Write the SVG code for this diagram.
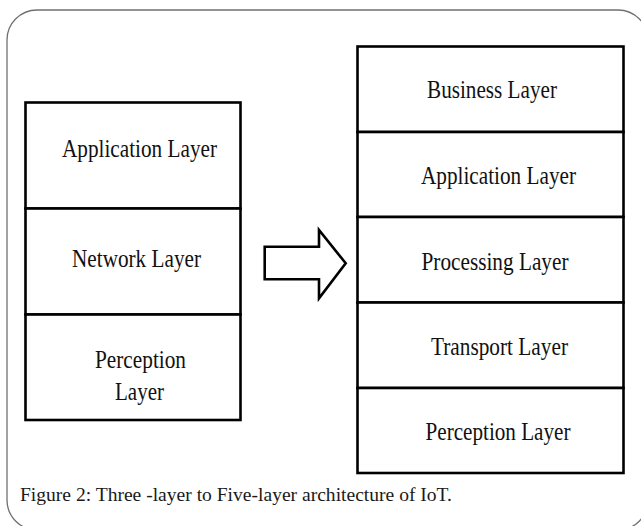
<svg xmlns="http://www.w3.org/2000/svg" width="641" height="526" viewBox="0 0 641 526">
<style>
.frame{fill:none;stroke:#707070;stroke-width:1.3}
.box{fill:#fff;stroke:#000;stroke-width:2.6}
.lbl{font-family:"Liberation Serif","Times New Roman",serif;font-size:26px;fill:#111}
.cap{font-family:"Liberation Serif","Times New Roman",serif;font-size:19px;fill:#1a1a1a}
</style>
<rect width="641" height="526" fill="#fff"/>
<rect class="frame" x="7" y="10" width="641" height="520" rx="30" ry="30"/>
<g id="three-layer">
<g id="l-application"><rect class="box" x="25.5" y="102.5" width="215" height="106"/>
<text class="lbl" x="62" y="157" textLength="155" lengthAdjust="spacingAndGlyphs">Application Layer</text></g>
<g id="l-network"><rect class="box" x="25.5" y="208.5" width="215" height="106"/>
<text class="lbl" x="72" y="267" textLength="129" lengthAdjust="spacingAndGlyphs">Network Layer</text></g>
<g id="l-perception"><rect class="box" x="25.5" y="314.5" width="215" height="105.5"/>
<text class="lbl" x="95" y="368" textLength="91" lengthAdjust="spacingAndGlyphs">Perception</text>
<text class="lbl" x="115" y="400" textLength="49" lengthAdjust="spacingAndGlyphs">Layer</text></g>
</g>
<g id="connectors">
<path d="M264.7,246.7 H319 V230 L345.7,263.3 L319,298.3 V279.3 H264.7 Z" fill="#fff" stroke="#000" stroke-width="2.6" stroke-linejoin="miter"/>
</g>
<g id="five-layer">
<g id="r-business"><rect class="box" x="357.5" y="46.5" width="266" height="85.5"/>
<text class="lbl" x="427" y="98" textLength="130" lengthAdjust="spacingAndGlyphs">Business Layer</text></g>
<g id="r-application"><rect class="box" x="357.5" y="132" width="266" height="85"/>
<text class="lbl" x="421" y="183.5" textLength="155" lengthAdjust="spacingAndGlyphs">Application Layer</text></g>
<g id="r-processing"><rect class="box" x="357.5" y="217" width="266" height="85.5"/>
<text class="lbl" x="421.5" y="269.5" textLength="147" lengthAdjust="spacingAndGlyphs">Processing Layer</text></g>
<g id="r-transport"><rect class="box" x="357.5" y="302.5" width="266" height="85.5"/>
<text class="lbl" x="431" y="355" textLength="137" lengthAdjust="spacingAndGlyphs">Transport Layer</text></g>
<g id="r-perception"><rect class="box" x="357.5" y="388" width="266" height="85"/>
<text class="lbl" x="425.5" y="440" textLength="145" lengthAdjust="spacingAndGlyphs">Perception Layer</text></g>
</g>
<text class="cap" x="20" y="501" textLength="432" lengthAdjust="spacingAndGlyphs">Figure 2: Three -layer to Five-layer architecture of IoT.</text>
</svg>
